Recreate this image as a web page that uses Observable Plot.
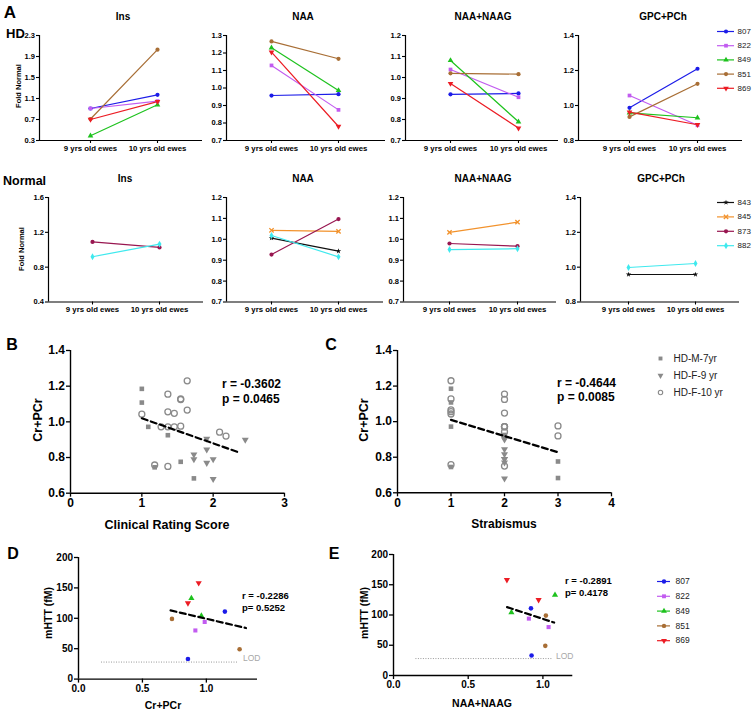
<!DOCTYPE html>
<html><head><meta charset="utf-8">
<script src="https://cdn.jsdelivr.net/npm/d3@7"></script>
<script src="https://cdn.jsdelivr.net/npm/@observablehq/plot@0.6"></script>
<style>
body{margin:0;background:#fff;}
#fig{position:relative;width:753px;height:713px;font-family:"Liberation Sans",Arial,Helvetica,sans-serif;overflow:hidden;background:#fff;}
</style></head><body><div id="fig"></div>
<script>
// ---------------- DATA ----------------
const ages = ["9 yrs old ewes", "10 yrs old ewes"];
const metabolites = ["Ins", "NAA", "NAA+NAAG", "GPC+PCh"];
const hdSheep = ["807", "822", "849", "851", "869"];
const normalSheep = ["843", "845", "873", "882"];

// [9 yrs, 10 yrs] per sheep, same order as hdSheep
const hdIns  = [[0.91, 1.17], [0.91, 1.05], [0.39, 0.98], [0.71, 2.03], [0.70, 1.04]];
const hdNAA  = [[0.957, 0.965], [1.129, 0.875], [1.23, 0.986], [1.266, 1.167], [1.205, 0.78]];
const hdNAAG = [[0.92, 0.924], [1.038, 0.906], [1.081, 0.789], [1.02, 1.016], [0.971, 0.759]];
const hdGPC  = [[0.987, 1.21], [1.057, 0.887], [0.958, 0.93], [0.935, 1.124], [0.962, 0.89]];
// same order as normalSheep (null = not measured)
const nIns  = [null, null, [1.09, 1.027], [0.92, 1.065]];
const nNAA  = [[1.006, 0.943], [1.043, 1.038], [0.927, 1.097], [1.018, 0.916]];
const nNAAG = [null, [1.033, 1.082], [0.98, 0.967], [0.951, 0.955]];
const nGPC  = [[0.958, 0.958], null, null, [0.998, 1.021]];

const ticksIns = [0.3, 0.7, 1.1, 1.5, 1.9, 2.3];
const ticksNAA = [0.7, 0.8, 0.9, 1.0, 1.1, 1.2, 1.3];
const ticksNAAG = [0.7, 0.8, 0.9, 1.0, 1.1, 1.2];
const ticksGPC = [0.8, 1.0, 1.2, 1.4];
const ticksInsN = [0.4, 0.8, 1.2, 1.6];

// B / C : Cr+PCr vs clinical rating score and strabismus
const crGroups = ["HD-M-7yr", "HD-F-9 yr", "HD-F-10 yr"];
const crGroup    = [0,0,0,0,0,0,0, 1,1,1,1,1,1,1,1, 2,2,2,2,2,2,2,2,2,2,2,2,2,2,2,2];
const crClinical = [1.0,1.0,1.09,1.365,1.18,1.545,1.73, 1.91,1.91,1.73,1.73,1.91,2.0,2.0,2.45,
                    1.0,1.18,1.27,1.365,1.365,1.365,1.455,1.455,1.545,1.545,1.545,1.636,1.636,1.365,2.09,2.18];
const crStrab    = [1,1,1,2,1,3,3, 2,2,2,2,2,2,2,2, 1,1,2,2,2,1,2,2,3,1,2,1,1,2,2,3];
const crValue    = [1.185,1.108,0.972,0.925,0.745,0.776,0.683, 0.905,0.845,0.817,0.79,0.77,0.79,0.68,0.90,
                    1.043,0.758,0.972,0.972,1.155,1.056,1.048,0.972,0.976,1.128,1.125,1.23,1.066,0.75,0.942,0.92];
const fitBx = [1.0, 2.38], fitBy = [1.02, 0.826];
const fitCx = [1.0, 3.02], fitCy = [1.01, 0.826];
const statsB = ["r = -0.3602", "p = 0.0465"];
const statsC = ["r = -0.4644", "p = 0.0085"];

// D / E : mHTT vs Cr+PCr and NAA+NAAG
const mSheep = [0,0,1,1,2,2,3,3,4,4];   // index into hdSheep
const mAge   = [0,1,0,1,0,1,0,1,0,1];   // index into ages
const mHTT   = [111,33, 80,94, 133,104, 99,49, 125,158];
const mCr    = [1.145,0.856, 0.914,0.987, 0.883,0.961, 0.731,1.26, 0.856,0.94];
const fitDx = [0.72, 1.31], fitDy = [113, 84];
const fitEx = [0.76, 1.075], fitEy = [113, 87.5];
const lodDx = [0.18, 1.25], lodEx = [0.15, 1.06], lodValue = 28;
const statsD = ["r = -0.2286", "p= 0.5252"];
const statsE = ["r = -0.2891", "p= 0.4178"];

// ---------------- STYLES ----------------
const FONT = '"Liberation Sans", Arial, Helvetica, sans-serif';
const hdColors = ["#1c1ce8", "#c25cf0", "#1ec21e", "#a86e35", "#ec1c24"];
const nColors = ["#111111", "#f2922c", "#981650", "#3fe9ee"];
const triangleDown = {
  draw(context, size) {
    const y = -Math.sqrt(size / (Math.sqrt(3) * 3));
    context.moveTo(0, -2 * y);
    context.lineTo(-Math.sqrt(3) * y, y);
    context.lineTo(Math.sqrt(3) * y, y);
    context.closePath();
  }
};
const hdSymbols = ["circle", "square", "triangle", "circle", triangleDown];
const nSymbols = ["star", "times", "circle", "diamond"];
const grey = "#8a8a8a";
const crSymbols = ["square", triangleDown, "circle"];

const fig = document.getElementById("fig");
function addPlot(node, left, top) {
  node.style.position = "absolute";
  node.style.left = left + "px";
  node.style.top = top + "px";
  fig.appendChild(node);
}
function textAt(str, x, y, o = {}) {
  const d = document.createElement("div");
  d.textContent = str;
  const tr = (o.anchor === "start" ? "translate(0,-50%)" : "translate(-50%,-50%)") + (o.rotate ? ` rotate(${o.rotate}deg)` : "");
  Object.assign(d.style, {
    position: "absolute", left: x + "px", top: y + "px", fontSize: (o.size || 10) + "px",
    fontWeight: o.weight || "bold", color: o.color || "#000", whiteSpace: "nowrap",
    lineHeight: "1", transform: tr, transformOrigin: "center"
  });
  fig.appendChild(d);
}
function dotStyle(sym, color, r) {
  if (sym === "times") return {symbol: sym, r, stroke: color, fill: "none", strokeWidth: 1.3};
  return {symbol: sym, r, fill: color, stroke: "none"};
}

// ---------------- PANEL A ----------------
function linePanel(cfg) {
  const ml = 34, mt = 6, mr = 4, mb = 18;
  const width = cfg.right - cfg.axisX + ml + mr;
  const height = cfg.bottom - cfg.top + mt + mb;
  const step = cfg.cat[1] - cfg.cat[0];
  const xd = [(cfg.axisX - cfg.cat[0]) / step, 1 + (cfg.right - cfg.cat[1]) / step];
  const marks = [
    Plot.ruleX([xd[0]], {stroke: "#000", strokeWidth: 1.2}),
    Plot.ruleY([cfg.yDomain[0]], {stroke: "#000", strokeWidth: 1.2}),
    Plot.axisY({ticks: cfg.yTicks, tickFormat: ".1f", tickSize: 3, tickPadding: 1.5, label: null,
      fontSize: 7.5, fontWeight: "bold", strokeWidth: 1.1}),
    Plot.axisX({ticks: [0, 1], tickFormat: i => ages[i], tickSize: 3, tickPadding: 1.5, label: null,
      fontSize: 7.8, fontWeight: "bold", strokeWidth: 1.1})
  ];
  cfg.ids.forEach((id, k) => {
    const v = cfg.values[k];
    if (!v) return;
    const rows = v.map((val, i) => ({age: i, val}));
    marks.push(Plot.line(rows, {x: "age", y: "val", stroke: cfg.colors[k], strokeWidth: 1.2}));
  });
  cfg.ids.forEach((id, k) => {
    const v = cfg.values[k];
    if (!v) return;
    const rows = v.map((val, i) => ({age: i, val}));
    const r = cfg.symbols[k] === "star" ? 1.7 : 2.1;
    marks.push(Plot.dot(rows, {x: "age", y: "val", ...dotStyle(cfg.symbols[k], cfg.colors[k], r)}));
  });
  const p = Plot.plot({
    width, height, marginLeft: ml, marginTop: mt, marginRight: mr, marginBottom: mb,
    x: {domain: xd}, y: {domain: cfg.yDomain},
    style: {fontFamily: FONT, background: "none", overflow: "visible"},
    marks
  });
  addPlot(p, cfg.axisX - ml, cfg.top - mt);
}

function lineLegend(ids, colors, symbols, cfg) {
  const n = ids.length;
  const width = cfg.textX - cfg.x0 + 30, height = cfg.step * (n - 1) + 16;
  const marks = [];
  ids.forEach((id, i) => {
    if (cfg.lines) marks.push(Plot.ruleY([i], {x1: 0, x2: 1, stroke: colors[i], strokeWidth: 1.2}));
    const r = symbols[i] === "star" ? 1.7 : cfg.r;
    const st = cfg.open && cfg.open[i] ? {symbol: symbols[i], r, fill: "none", stroke: colors[i], strokeWidth: 1.1} : dotStyle(symbols[i], colors[i], r);
    marks.push(Plot.dot([i], {x: 0.5, y: d => d, ...st}));
    marks.push(Plot.text([id], {x: 1, y: () => i, text: d => d, textAnchor: "start", dx: cfg.textX - cfg.x1,
      fontSize: cfg.fontSize, fill: "#222"}));
  });
  const p = Plot.plot({
    width, height, margin: 0,
    x: {domain: [0, 1], range: [4, 4 + cfg.x1 - cfg.x0], axis: null},
    y: {domain: [0, Math.max(1, n - 1)], range: [8, 8 + cfg.step * Math.max(1, n - 1)], axis: null},
    style: {fontFamily: FONT, background: "none", overflow: "visible"},
    marks
  });
  addPlot(p, cfg.x0 - 4, cfg.y0 - 8);
}

const hdValues = [hdIns, hdNAA, hdNAAG, hdGPC];
const nValues = [nIns, nNAA, nNAAG, nGPC];
const hdGeo = [
  {axisX: 39, right: 202, cat: [90, 157], yDomain: [0.3, 2.3], yTicks: ticksIns},
  {axisX: 226, right: 385, cat: [271, 338], yDomain: [0.7, 1.3], yTicks: ticksNAA},
  {axisX: 405, right: 558, cat: [450, 518], yDomain: [0.7, 1.2], yTicks: ticksNAAG},
  {axisX: 578, right: 742, cat: [629, 697], yDomain: [0.8, 1.4], yTicks: ticksGPC}
];
const nGeo = [
  {axisX: 48, right: 203, cat: [92, 159], yDomain: [0.4, 1.6], yTicks: ticksInsN},
  {axisX: 226, right: 383, cat: [271, 338], yDomain: [0.7, 1.2], yTicks: ticksNAAG},
  {axisX: 403, right: 556, cat: [449, 517], yDomain: [0.7, 1.2], yTicks: ticksNAAG},
  {axisX: 580, right: 739, cat: [628, 695], yDomain: [0.8, 1.4], yTicks: ticksGPC}
];
const hdTitleX = [123, 303, 483, 663];
const nTitleX = [125, 303, 483, 661];
hdGeo.forEach((g, k) => {
  linePanel({...g, top: 35, bottom: 140, ids: hdSheep, colors: hdColors, symbols: hdSymbols, values: hdValues[k]});
  textAt(metabolites[k], hdTitleX[k], 17, {size: 10});
});
nGeo.forEach((g, k) => {
  linePanel({...g, top: 197, bottom: 301.5, ids: normalSheep, colors: nColors, symbols: nSymbols, values: nValues[k]});
  textAt(metabolites[k], nTitleX[k], 179, {size: 10});
});
lineLegend(hdSheep, hdColors, hdSymbols, {x0: 717, x1: 734, textX: 737, y0: 31, step: 14.2, r: 2.1, fontSize: 8, lines: true});
lineLegend(normalSheep, nColors, nSymbols, {x0: 717, x1: 734, textX: 737, y0: 202, step: 14.4, r: 2.1, fontSize: 8, lines: true});

textAt("A", 10, 12, {size: 17});
textAt("HD", 6, 33, {size: 13, anchor: "start"});
textAt("Normal", 3, 181, {size: 12.5, anchor: "start"});
textAt("Fold Normal", 19, 86, {size: 7.5, rotate: -90});
textAt("Fold Normal", 22, 249, {size: 7.5, rotate: -90});

// ---------------- SCATTER PANELS ----------------
function scatterPanel(cfg) {
  const ml = 36, mt = 6, mr = 8, mb = 22;
  const width = cfg.right - cfg.axisX + ml + mr;
  const height = cfg.bottom - cfg.top + mt + mb;
  const marks = [
    Plot.ruleX([cfg.xDomain[0]], {stroke: "#000", strokeWidth: 1.4}),
    Plot.ruleY([cfg.yDomain[0]], {stroke: "#000", strokeWidth: 1.4}),
    Plot.axisY({ticks: cfg.yTicks, tickFormat: cfg.yFmt, tickSize: 4, tickPadding: 1.5, label: null,
      fontSize: cfg.fontSize, fontWeight: "bold", strokeWidth: 1.3}),
    Plot.axisX({ticks: cfg.xTicks, tickFormat: cfg.xFmt, tickSize: 4, tickPadding: 1.5, label: null,
      fontSize: cfg.fontSize, fontWeight: "bold", strokeWidth: 1.3}),
    ...cfg.marks
  ];
  const p = Plot.plot({
    width, height, marginLeft: ml, marginTop: mt, marginRight: mr, marginBottom: mb,
    x: {domain: cfg.xDomain}, y: {domain: cfg.yDomain},
    style: {fontFamily: FONT, background: "none", overflow: "visible"},
    marks
  });
  addPlot(p, cfg.axisX - ml, cfg.top - mt);
}

const crRows = crValue.map((v, i) => ({g: crGroup[i], clin: crClinical[i], strab: crStrab[i], v}));
function crMarks(xKey, fx, fy) {
  const m = [];
  [0, 1].forEach(g => m.push(Plot.dot(crRows.filter(d => d.g === g), {x: xKey, y: "v", symbol: crSymbols[g], r: 2.6, fill: grey, stroke: "none"})));
  m.push(Plot.dot(crRows.filter(d => d.g === 2), {x: xKey, y: "v", symbol: "circle", r: 3, fill: "none", stroke: grey, strokeWidth: 1.3}));
  m.push(Plot.line(fx.map((x, i) => ({x, y: fy[i]})), {x: "x", y: "y", stroke: "#000", strokeWidth: 2.2, strokeDasharray: "6,3.5"}));
  return m;
}
const crTicks = [0.6, 0.8, 1.0, 1.2, 1.4];
scatterPanel({axisX: 70, right: 284, top: 350, bottom: 492.7, xDomain: [0, 3], yDomain: [0.6, 1.4],
  xTicks: [0, 1, 2, 3], yTicks: crTicks, xFmt: d3.format("d"), yFmt: ".1f", fontSize: 12,
  marks: crMarks("clin", fitBx, fitBy)});
scatterPanel({axisX: 396.7, right: 610.7, top: 350, bottom: 492.3, xDomain: [0, 4], yDomain: [0.6, 1.4],
  xTicks: [0, 1, 2, 3, 4], yTicks: crTicks, xFmt: d3.format("d"), yFmt: ".1f", fontSize: 12,
  marks: crMarks("strab", fitCx, fitCy)});
lineLegend(crGroups, [grey, grey, grey], crSymbols, {x0: 656, x1: 664, textX: 673, y0: 358, step: 17, r: 2.2, fontSize: 10, lines: false, open: [false, false, true]});

textAt("B", 12, 345, {size: 16});
textAt("C", 331, 345, {size: 16});
textAt("Cr+PCr", 38, 420, {size: 12.5, rotate: -90});
textAt("Cr+PCr", 364, 420, {size: 12.5, rotate: -90});
textAt("Clinical Rating Score", 167, 525, {size: 12.5});
textAt("Strabismus", 504, 524, {size: 12});
textAt(statsB[0], 222, 384, {size: 12, anchor: "start"});
textAt(statsB[1], 222, 399, {size: 12, anchor: "start"});
textAt(statsC[0], 557, 383, {size: 12, anchor: "start"});
textAt(statsC[1], 557, 397, {size: 12, anchor: "start"});

// D / E
const mRows = mHTT.map((v, i) => ({s: mSheep[i], a: mAge[i], v, cr: mCr[i], naag: hdNAAG[mSheep[i]][mAge[i]]}));
function mMarks(xKey, fx, fy, lx) {
  const m = [];
  m.push(Plot.ruleY([lodValue], {x1: lx[0], x2: lx[1], stroke: "#9a9a9a", strokeWidth: 1, strokeDasharray: "1,1.5"}));
  hdSheep.forEach((id, k) => m.push(Plot.dot(mRows.filter(d => d.s === k), {x: xKey, y: "v", ...dotStyle(hdSymbols[k], hdColors[k], 2.3)})));
  m.push(Plot.line(fx.map((x, i) => ({x, y: fy[i]})), {x: "x", y: "y", stroke: "#000", strokeWidth: 2.2, strokeDasharray: "6,3.5"}));
  return m;
}
const mTicks = [0, 50, 100, 150, 200];
scatterPanel({axisX: 78, right: 257, top: 556.7, bottom: 678.3, xDomain: [0, 1.4], yDomain: [0, 200],
  xTicks: [0, 0.5, 1.0], yTicks: mTicks, xFmt: ".1f", yFmt: "d", fontSize: 10,
  marks: mMarks("cr", fitDx, fitDy, lodDx)});
scatterPanel({axisX: 392.7, right: 572, top: 554.3, bottom: 675.3, xDomain: [0, 1.2], yDomain: [0, 200],
  xTicks: [0, 0.5, 1.0], yTicks: mTicks, xFmt: ".1f", yFmt: "d", fontSize: 10,
  marks: mMarks("naag", fitEx, fitEy, lodEx)});
lineLegend(hdSheep, hdColors, hdSymbols, {x0: 657, x1: 670, textX: 675, y0: 580.7, step: 14.8, r: 2.2, fontSize: 8.5, lines: true});

textAt("D", 13, 554, {size: 16});
textAt("E", 334, 554, {size: 16});
textAt("mHTT (fM)", 48, 613, {size: 10.5, rotate: -90});
textAt("mHTT (fM)", 364, 613, {size: 10.5, rotate: -90});
textAt("Cr+PCr", 163, 705, {size: 10.5});
textAt("NAA+NAAG", 482, 703, {size: 10.5});
textAt(statsD[0], 242, 596, {size: 9.5, anchor: "start"});
textAt(statsD[1], 242, 608, {size: 9.5, anchor: "start"});
textAt(statsE[0], 565, 581, {size: 9.5, anchor: "start"});
textAt(statsE[1], 565, 593, {size: 9.5, anchor: "start"});
textAt("LOD", 243, 657.7, {size: 8.5, weight: "normal", color: "#a8a8a8", anchor: "start"});
textAt("LOD", 556, 655.7, {size: 8.5, weight: "normal", color: "#a8a8a8", anchor: "start"});
</script></body></html>
